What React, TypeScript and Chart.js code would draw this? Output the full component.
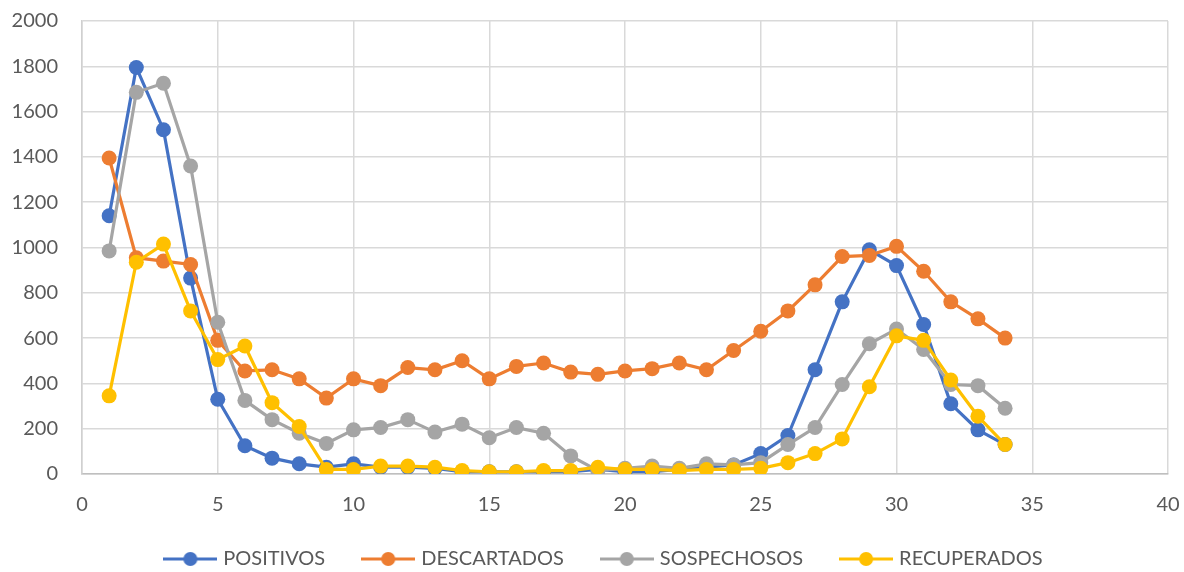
import React, { useEffect, useRef } from "react";
import { Chart, registerables } from "chart.js";

Chart.register(...registerables);

const days = [1,2,3,4,5,6,7,8,9,10,11,12,13,14,15,16,17,18,19,20,21,22,23,24,25,26,27,28,29,30,31,32,33,34];
const positivos = [1140,1795,1520,865,330,125,70,45,30,45,30,30,25,10,10,10,10,10,20,10,10,20,30,40,90,170,460,760,990,920,660,310,195,130];
const descartados = [1395,955,940,925,590,455,460,420,335,420,390,470,460,500,420,475,490,450,440,455,465,490,460,545,630,720,835,960,965,1005,895,760,685,600];
const sospechosos = [985,1685,1725,1360,670,325,240,180,135,195,205,240,185,220,160,205,180,80,15,25,35,25,45,40,50,130,205,395,575,640,550,395,390,290];
const recuperados = [345,935,1015,720,505,565,315,210,20,20,35,35,30,15,10,10,15,15,30,20,20,15,20,20,25,50,90,155,385,610,590,415,255,130];

const seriesNames = ["POSITIVOS", "DESCARTADOS", "SOSPECHOSOS", "RECUPERADOS"];
const seriesColors = ["#4472C4", "#ED7D31", "#A5A5A5", "#FFC000"];
const seriesValues = [positivos, descartados, sospechosos, recuperados];
const xTickMin = 0, xTickMax = 40, xStep = 5;
const yTickMin = 0, yTickMax = 2000, yStep = 200;

const FONT = "Lato";
const TEXT = "#595959";

function legendIcon(color: string) {
  const c = document.createElement("canvas");
  c.width = 54;
  c.height = 18;
  const ctx = c.getContext("2d")!;
  ctx.strokeStyle = color;
  ctx.lineWidth = 3;
  ctx.beginPath();
  ctx.moveTo(0, 9);
  ctx.lineTo(54, 9);
  ctx.stroke();
  ctx.fillStyle = color;
  ctx.beginPath();
  ctx.arc(27, 9, 7, 0, Math.PI * 2);
  ctx.fill();
  return c;
}

export default function App() {
  const ref = useRef<HTMLCanvasElement>(null);
  useEffect(() => {
    if (!ref.current) return;
    const icons = seriesColors.map(legendIcon);
    const legendFix = {
      id: "legendFix",
      beforeInit(chart: any) {
        const lg = chart.legend;
        if (lg) {
          const orig = lg.fit.bind(lg);
          lg.fit = function () {
            orig();
            this.height = 28;
          };
        }
      },
      afterLayout(chart: any) {
        const lg = chart.legend;
        if (lg) {
          lg.top = 559 - 40 - 10;
          lg.bottom = 572;
          lg.left = lg.left + 21;
          lg.right = lg.right + 21;
        }
      },
    };
    const chart = new Chart(ref.current, {
      type: "scatter",
      data: {
        datasets: seriesNames.map((name, i) => ({
          label: name,
          data: days.map((d, j) => ({ x: d, y: seriesValues[i][j] })),
          showLine: true,
          borderColor: seriesColors[i],
          backgroundColor: seriesColors[i],
          pointBackgroundColor: seriesColors[i],
          pointBorderColor: seriesColors[i],
          pointBorderWidth: 0,
          borderWidth: 3.2,
          pointRadius: 7.5,
          pointHoverRadius: 7.5,
          order: 4 - i,
        })),
      },
      options: {
        animation: false,
        responsive: true,
        maintainAspectRatio: false,
        layout: { padding: { left: 0, right: 16, top: 21, bottom: 0 } },
        plugins: {
          tooltip: { enabled: false },
          legend: {
            position: "bottom",
            labels: {
              usePointStyle: true,
              pointStyleWidth: 46,
              boxHeight: 18,
              padding: 40,
              color: TEXT,
              font: { family: FONT, size: 20 },
              generateLabels: (ch: any) =>
                ch.data.datasets.map((ds: any, i: number) => ({
                  text: ds.label,
                  fillStyle: seriesColors[i],
                  strokeStyle: seriesColors[i],
                  fontColor: TEXT,
                  lineWidth: 0,
                  pointStyle: icons[i],
                  hidden: false,
                  datasetIndex: i,
                })),
            },
          },
        },
        scales: {
          x: {
            type: "linear",
            min: xTickMin,
            max: xTickMax,
            ticks: { stepSize: xStep, color: TEXT, font: { family: FONT, size: 20 }, padding: 19, callback: (v: any) => String(v) },
            grid: { color: "#d9d9d9", lineWidth: 1.5, drawTicks: false },
            border: { color: "#bfbfbf", width: 1.5 },
            afterFit: (s: any) => { s.height = 70; s.paddingLeft = 0; s.paddingRight = 0; },
          },
          y: {
            min: yTickMin,
            max: yTickMax,
            ticks: { stepSize: yStep, color: TEXT, font: { family: FONT, size: 20 }, padding: 24, callback: (v: any) => String(v) },
            grid: { color: "#d9d9d9", lineWidth: 1.5, drawTicks: false },
            border: { color: "#d0d0d0", width: 1.5 },
            afterFit: (s: any) => { s.width = 82; s.paddingTop = 0; s.paddingBottom = 0; },
          },
        },
      },
      plugins: [legendFix],
    });
    return () => chart.destroy();
  }, []);
  return (
    <div style={{ position: "fixed", left: 0, top: 0, width: 1184, height: 572, background: "#fff" }}>
      <canvas ref={ref} />
    </div>
  );
}
